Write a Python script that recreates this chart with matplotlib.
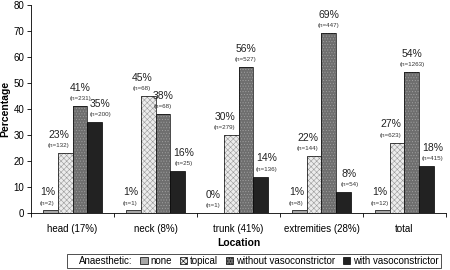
import matplotlib
matplotlib.use("Agg")
import matplotlib.pyplot as plt
import numpy as np
from matplotlib.patches import Patch

plt.rcParams['font.family'] = ['Liberation Sans', 'DejaVu Sans']
plt.rcParams['hatch.linewidth'] = 0.4

# 資料
locations = ['head (17%)', 'neck (8%)', 'trunk (41%)', 'extremities (28%)', 'total']
series = ['none', 'topical', 'without vasoconstrictor', 'with vasoconstrictor']
pct_none = [1, 1, 0, 1, 1]
pct_topical = [23, 45, 30, 22, 27]
pct_without = [41, 38, 56, 69, 54]
pct_with = [35, 16, 14, 8, 18]
n_none = [2, 1, 1, 8, 12]
n_topical = [132, 68, 279, 144, 623]
n_without = [231, 68, 527, 447, 1263]
n_with = [200, 25, 136, 54, 415]

values = [pct_none, pct_topical, pct_without, pct_with]
counts = [n_none, n_topical, n_without, n_with]
colors = ['#a6a6a6', '#ececec', '#6e6e6e', '#222222']
hatches = [None, 'xxxxxx', '......', None]
hatch_colors = [None, '#9a9a9a', '#a0a0a0', None]
label_dx = [-2, -4.5, 0, 4]   # 標籤左右偏移 (points)

fig = plt.figure(figsize=(4.5, 2.7), dpi=100)
ax = fig.add_axes([0.069, 0.211, 0.922, 0.772])

x = np.arange(len(locations))
w = 0.18
for i in range(4):
    pos = x + (i - 1.5) * w
    if hatches[i]:
        ax.bar(pos, values[i], width=w, color=colors[i], edgecolor=hatch_colors[i],
               linewidth=0, hatch=hatches[i])
        ax.bar(pos, values[i], width=w, fill=False, edgecolor='black', linewidth=0.5)
    else:
        ax.bar(pos, values[i], width=w, color=colors[i], edgecolor='black', linewidth=0.5)
    for xp, v, n in zip(pos, values[i], counts[i]):
        ax.annotate(f'{v}%', (xp, v), xytext=(label_dx[i], 9.5), textcoords='offset points',
                    ha='center', va='bottom', fontsize=7.5, color='#222222')
        ax.annotate(f'(n={n})', (xp, v), xytext=(label_dx[i], 3.5), textcoords='offset points',
                    ha='center', va='bottom', fontsize=4.5, color='#333333')

ax.set_xlim(-0.5, len(locations) - 0.5)
ax.set_ylim(0, 80)
ax.set_yticks(range(0, 81, 10))
ax.set_xticks(np.arange(len(locations) + 1) - 0.5)
ax.set_xticklabels([])
ax.set_xticks(x, minor=True)
ax.set_xticklabels(locations, minor=True)
ax.tick_params(axis='x', which='major', length=3, width=0.6, direction='out')
ax.tick_params(axis='x', which='minor', length=0, labelsize=7, pad=8)
ax.tick_params(axis='y', length=3, width=0.6, labelsize=7, pad=2)
ax.spines['top'].set_visible(False)
ax.spines['right'].set_visible(False)
ax.spines['left'].set_linewidth(0.6)
ax.spines['bottom'].set_linewidth(0.6)
ax.set_ylabel('Percentage', fontsize=7.5, fontweight='bold', labelpad=2)
ax.set_xlabel('Location', fontsize=7.5, fontweight='bold', labelpad=3)

handles = [Patch(visible=False, label='Anaesthetic:')]
for i in range(4):
    handles.append(Patch(facecolor=colors[i], edgecolor='black', linewidth=0.5,
                         hatch=hatches[i], label=series[i]))
leg = fig.legend(handles=handles, loc='lower left', bbox_to_anchor=(0.148, 0.008),
                 ncol=5, fontsize=7, frameon=True, fancybox=False,
                 handlelength=0.8, handleheight=0.8, handletextpad=0.3,
                 columnspacing=0.75, borderpad=0.2, borderaxespad=0)
leg.get_frame().set_edgecolor('black')
leg.get_frame().set_linewidth(0.6)

fig.savefig('out.png', dpi=100)
